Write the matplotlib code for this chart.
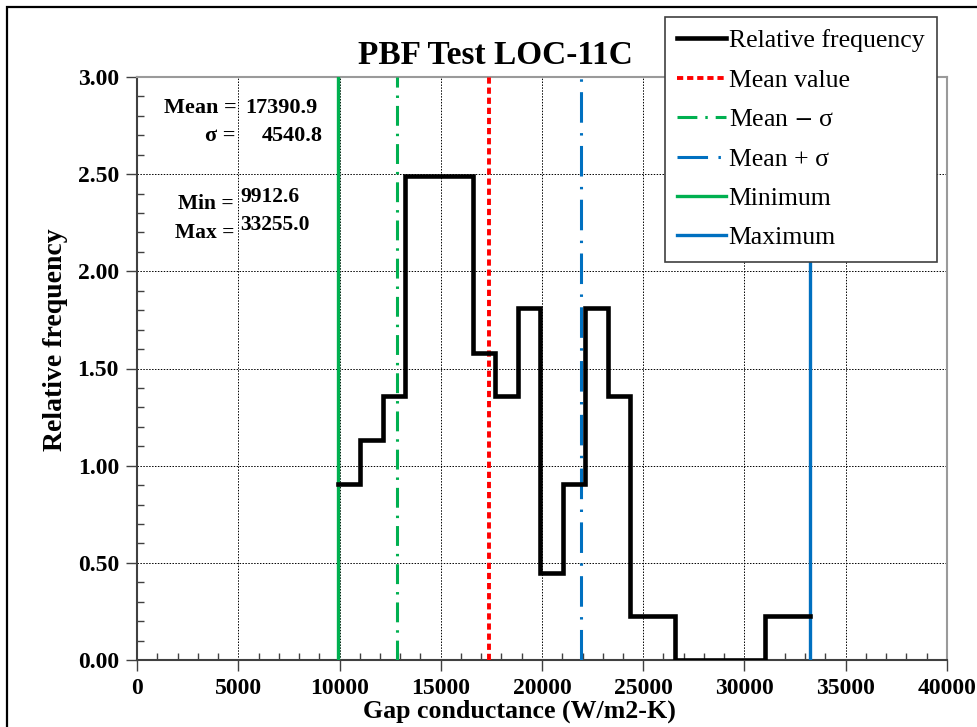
import numpy as np
import matplotlib
matplotlib.use("Agg")
import matplotlib.pyplot as plt
from matplotlib.patches import Rectangle
from matplotlib.ticker import MultipleLocator, FormatStrFormatter

plt.rcParams['font.family'] = ['Liberation Serif', 'DejaVu Serif']
plt.rcParams['mathtext.fontset'] = 'stix'

# Summary statistics of the gap conductance sample
mean_val = 17390.9
sigma_val = 4540.8
min_val = 9912.6
max_val = 33255.0

# Relative frequency in each of the 21 equal bins between min and max
n_bins = 21
rel_freq = [0.905, 1.13, 1.36, 2.49, 2.49, 2.49, 1.58, 1.36, 1.81, 0.45,
            0.905, 1.81, 1.36, 0.226, 0.226, 0.0, 0.0, 0.0, 0.0, 0.226, 0.226]

title = "PBF Test LOC-11C"
xlabel = "Gap conductance (W/m2-K)"
ylabel = "Relative frequency"

edges = np.linspace(min_val, max_val, n_bins + 1)
step_x = np.repeat(edges, 2)[1:-1]
step_y = np.repeat(rel_freq, 2)

W, H = 977, 727
fig = plt.figure(figsize=(W / 100, H / 100), dpi=100)
ax = fig.add_axes([137 / W, 1 - 660 / H, 810 / W, 583 / H])

# Outer frame of the figure
fig.patches.append(Rectangle((7 / W, -0.1), 1.2, 1.1 - 7 / H,
                             transform=fig.transFigure, fill=False,
                             edgecolor='black', linewidth=1.6, zorder=0))

green = '#00B050'
blue = '#0070C0'

h_rel, = ax.plot(step_x, step_y, color='black', lw=3.3, zorder=5,
                 solid_joinstyle='miter', label='Relative frequency')
h_mean = ax.axvline(mean_val, color='#FF0000', lw=2.8, ls=(0, (1.6, 1.0)),
                    zorder=4, label='Mean value')
h_lo = ax.axvline(mean_val - sigma_val, color=green, lw=2.2,
                  ls=(0, (6.5, 2.6, 0.8, 2.6)), zorder=4, label='Mean $-$ σ')
h_hi = ax.axvline(mean_val + sigma_val, color=blue, lw=2.2,
                  ls=(0, (10, 3.4, 0.8, 3.4)), zorder=4, label='Mean + σ')
h_min = ax.axvline(min_val, color=green, lw=2.4, zorder=4, label='Minimum')
h_max = ax.axvline(max_val, color=blue, lw=2.4, zorder=4, label='Maximum')

ax.set_xlim(0, 40000)
ax.set_ylim(0, 3.0)
ax.xaxis.set_major_locator(MultipleLocator(5000))
ax.xaxis.set_minor_locator(MultipleLocator(1000))
ax.yaxis.set_major_locator(MultipleLocator(0.5))
ax.yaxis.set_minor_locator(MultipleLocator(0.1))
ax.yaxis.set_major_formatter(FormatStrFormatter('%.2f'))
ax.tick_params(which='major', direction='out', length=8, width=1, color='#404040')
ax.tick_params(which='minor', direction='in', length=5, width=1, color='#404040')
ax.tick_params(axis='both', labelsize=17, pad=5)
for lab in ax.get_xticklabels() + ax.get_yticklabels():
    lab.set_fontweight('bold')

ax.grid(True, which='major', color='black', ls=(0, (1.5, 1.5)), lw=0.7)
for side in ['top', 'right']:
    ax.spines[side].set_color('#9a9a9a')
    ax.spines[side].set_linewidth(1.5)
for side in ['left', 'bottom']:
    ax.spines[side].set_color('#404040')
    ax.spines[side].set_linewidth(1.5)

fig.text(519 / W, 1 - 711 / H, xlabel, fontsize=18.6, fontweight='bold',
         ha='center', va='center')
fig.text(56 / W, 1 - 340 / H, ylabel, fontsize=20, fontweight='bold',
         ha='center', va='center', rotation=90)
fig.text(495 / W, 1 - 55 / H, title, fontsize=24, fontweight='bold',
         ha='center', va='center')

# Statistics annotations
tkw = dict(fontsize=16, fontweight='bold', transform=ax.transData)
ax.text(4950, 2.841, 'Mean =', ha='right', va='center', **tkw)
ax.text(5350, 2.841, f'{mean_val:.1f}', ha='left', va='center', **tkw)
ax.text(4850, 2.697, 'σ =', ha='right', va='center', **tkw)
ax.text(9150, 2.697, f'{sigma_val:.1f}', ha='right', va='center', **tkw)
skw = dict(fontsize=15.5, fontweight='bold', transform=ax.transData)
ax.text(4800, 2.348, 'Min =', ha='right', va='center', **skw)
ax.text(5100, 2.385, f'{min_val:.1f}', ha='left', va='center', **skw)
ax.text(4800, 2.199, 'Max =', ha='right', va='center', **skw)
ax.text(5100, 2.240, f'{max_val:.1f}', ha='left', va='center', **skw)

leg = ax.legend(handles=[h_rel, h_mean, h_lo, h_hi, h_min, h_max],
                loc='upper left', bbox_to_anchor=(665 / W, 1 - 17 / H),
                bbox_transform=fig.transFigure, fontsize=18.5, frameon=True,
                fancybox=False, edgecolor='#404040', framealpha=1,
                handlelength=1.9, handletextpad=0.1, labelspacing=0.64,
                borderpad=0.48, borderaxespad=0)
leg.get_frame().set_linewidth(1.2)
leg.set_zorder(10)

fig.savefig('out.png', dpi=100)
